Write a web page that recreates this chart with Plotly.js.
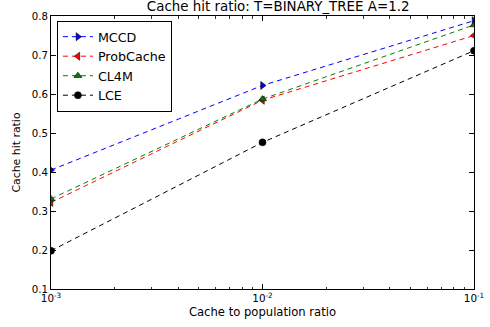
<!DOCTYPE html>
<html>
<head>
<meta charset="utf-8">
<script src="https://cdn.plot.ly/plotly-3.0.1.min.js"></script>
<style>
  html, body { margin: 0; padding: 0; background: #fff; }
  #chart { width: 490px; height: 327px; }
</style>
</head>
<body>
<div id="chart"></div>
<script>
// Cache sizes relative to content population
const cacheRatio = [0.001, 0.01, 0.1];

// Cache hit ratio per caching strategy
const mccd      = [0.405, 0.622, 0.788];
const probCache = [0.322, 0.584, 0.750];
const cl4m      = [0.331, 0.587, 0.777];
const lce       = [0.198, 0.476, 0.711];

// Axis tick labels
const xTickVals = [0.001, 0.01, 0.1];
const xTickText = ['10<sup>-3</sup>', '10<sup>-2</sup>', '10<sup>-1</sup>'];
const xMinorVals = [0.002, 0.003, 0.004, 0.005, 0.006, 0.007, 0.008, 0.009,
                    0.02, 0.03, 0.04, 0.05, 0.06, 0.07, 0.08, 0.09];
const yTickVals = [0.1, 0.2, 0.3, 0.4, 0.5, 0.6, 0.7, 0.8];
const yTickText = ['0.1', '0.2', '0.3', '0.4', '0.5', '0.6', '0.7', '0.8'];

const FONT = 'DejaVu Sans, Verdana, sans-serif';

function series(name, y, color, symbol) {
  return {
    x: cacheRatio, y: y, name: name, type: 'scatter', mode: 'lines+markers',
    line: { color: color, width: 1, dash: '5px,4px' },
    marker: { color: color, symbol: symbol, size: 7, line: { color: '#000', width: 0.6 } },
    cliponaxis: true
  };
}

const traces = [
  series('MCCD', mccd, '#0000ff', 'triangle-right'),
  series('ProbCache', probCache, '#ff0000', 'triangle-left'),
  series('CL4M', cl4m, '#008000', 'triangle-up'),
  series('LCE', lce, '#000000', 'circle')
];

const layout = {
  width: 490, height: 327,
  margin: { l: 51, r: 16, t: 16, b: 38 },
  paper_bgcolor: '#fff', plot_bgcolor: '#fff',
  font: { family: FONT, color: '#000', size: 10 },
  title: {
    text: 'Cache hit ratio: T=BINARY_TREE A=1.2',
    font: { family: FONT, size: 13.4, color: '#000' },
    x: 0.537, xanchor: 'center', xref: 'paper',
    y: 1 - 1.2 / 327, yanchor: 'top', yref: 'container'
  },
  showlegend: true,
  legend: {
    x: 0.014, y: 0.982, xanchor: 'left', yanchor: 'top',
    bgcolor: '#fff', bordercolor: '#000', borderwidth: 1,
    font: { family: FONT, size: 12.7, color: '#000' },
    itemwidth: 30, tracegroupgap: 0
  },
  xaxis: {
    type: 'log', range: [-3, -1],
    tickvals: xTickVals, ticktext: xTickText,
    ticks: 'inside', ticklen: 5, tickwidth: 1, tickcolor: '#000',
    minor: { tickvals: xMinorVals, ticks: 'inside', ticklen: 2.5, tickwidth: 0.8, tickcolor: '#000', showgrid: false },
    showline: true, linecolor: '#000', linewidth: 1, mirror: 'allticks',
    showgrid: false, zeroline: false,
    tickfont: { family: FONT, size: 10.4, color: '#000' },
    title: { text: 'Cache to population ratio', font: { family: FONT, size: 11.6, color: '#000' }, standoff: 4 }
  },
  yaxis: {
    range: [0.1, 0.8],
    tickvals: yTickVals, ticktext: yTickText,
    ticks: 'inside', ticklen: 5, tickwidth: 1, tickcolor: '#000',
    showline: true, linecolor: '#000', linewidth: 1, mirror: 'allticks',
    showgrid: false, zeroline: false,
    tickfont: { family: FONT, size: 10.2, color: '#000' },
    title: { text: 'Cache hit ratio', font: { family: FONT, size: 10.9, color: '#000' }, standoff: 8 }
  }
};

Plotly.newPlot('chart', traces, layout, { staticPlot: true, displayModeBar: false });
</script>
</body>
</html>
